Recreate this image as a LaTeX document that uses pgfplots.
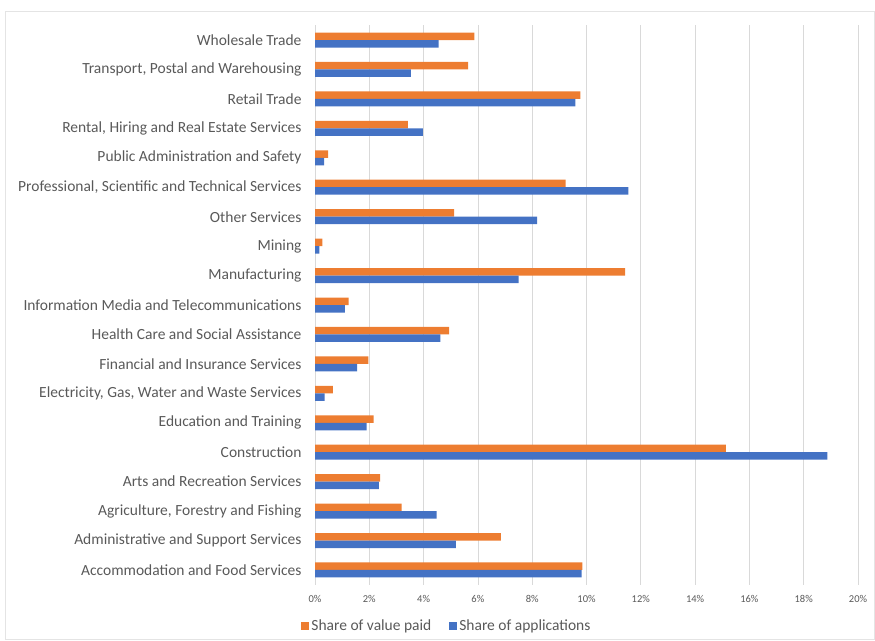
\documentclass[border=0pt]{standalone}
\usepackage{pgfplots}
\pgfplotsset{compat=1.18}
\usepackage{pgfplotstable}
\usepackage{fontspec}
\setmainfont{Carlito}
\definecolor{cOrange}{HTML}{ED7D31}
\definecolor{cBlue}{HTML}{4472C4}
\definecolor{cGrid}{HTML}{D9D9D9}
\definecolor{cText}{HTML}{595959}
\pgfplotstableread{
idx paid apps
0 9.85 9.82
1 6.85 5.19
2 3.19 4.48
3 2.40 2.35
4 15.13 18.87
5 2.16 1.90
6 0.66 0.35
7 1.97 1.55
8 4.94 4.62
9 1.24 1.10
10 11.42 7.50
11 0.27 0.16
12 5.12 8.18
13 9.23 11.54
14 0.48 0.34
15 3.42 3.97
16 9.77 9.59
17 5.64 3.53
18 5.87 4.55
}\datatable
\begin{document}
\begin{tikzpicture}[x=1pt,y=1pt]
\path[use as bounding box] (0,0) rectangle (875,-640);
\draw[cGrid!70, line width=0.8pt] (5,-11) rectangle (874.5,-639.5);
\begin{axis}[
  at={(315pt,-584.7pt)}, anchor=south west,
  scale only axis, width=543pt, height=559.4pt,
  xmin=0, xmax=20, ymin=-0.5, ymax=18.5,
  xbar, bar width=7.5pt,
  axis line style={draw=none},
  major tick length=0pt,
  xmajorgrids, grid style={cGrid, line width=0.7pt},
  xtick={0,2,...,20},
  xticklabels={0\%,2\%,4\%,6\%,8\%,10\%,12\%,14\%,16\%,18\%,20\%},
  xticklabel style={font=\fontsize{10.5}{12}\selectfont, text=cText, yshift=-7pt},
  ytick={0,...,18},
  yticklabels={Accommodation and Food Services, Administrative and Support Services, {Agriculture, Forestry and Fishing}, Arts and Recreation Services, Construction, Education and Training, {Electricity, Gas, Water and Waste Services}, Financial and Insurance Services, Health Care and Social Assistance, Information Media and Telecommunications, Manufacturing, Mining, Other Services, {Professional, Scientific and Technical Services}, Public Administration and Safety, {Rental, Hiring and Real Estate Services}, Retail Trade, {Transport, Postal and Warehousing}, Wholesale Trade},
  yticklabel style={font=\fontsize{15.5}{18}\selectfont, text=cText, xshift=-10pt},
  legend style={at={(0.2430,-0.0738)}, anchor=center, draw=none, fill=none,
    font=\fontsize{15.5}{18}\selectfont, text=cText, legend columns=2,
    /tikz/every even column/.append style={column sep=16pt}},
  legend image code/.code={\fill[#1] (0pt,-4pt) rectangle (8pt,4pt);},
]
\addplot[draw=none, fill=cOrange, bar shift=3.75pt] table[x=paid, y=idx] {\datatable};
\addlegendentry{Share of value paid}
\addplot[draw=none, fill=cBlue, bar shift=-3.75pt] table[x=apps, y=idx] {\datatable};
\addlegendentry{Share of applications}
\end{axis}
\end{tikzpicture}
\end{document}
